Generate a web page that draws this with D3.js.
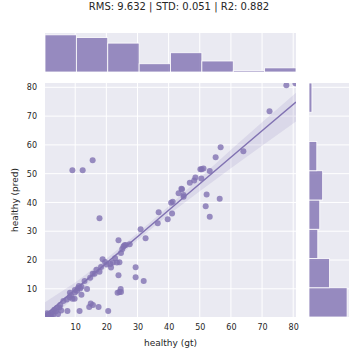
<!DOCTYPE html>
<html>
<head>
<meta charset="utf-8">
<script src="https://cdn.jsdelivr.net/npm/d3@7"></script>
<style>
  body { margin: 0; background: #fff; }
  svg { font-family: "DejaVu Sans", sans-serif; }
</style>
</head>
<body>
<div id="chart"></div>
<script>
const gtVals = [
  9.1, 0.6, 1.1, 1.5, 2.0, 2.4, 2.8, 3.3, 3.0, 4.1, 4.9, 4.5, 3.8, 6.2, 7.5, 5.5, 8.3, 8.2, 9.1, 9.8, 8.6, 9.9, 9.9, 7.3, 1.8, 0.9, 5.2,
  12.4, 15.6, 17.8, 10.9, 12.0, 11.2, 13.8, 12.0, 13.0, 11.4, 14.5, 15.0, 15.7, 17.5, 15.6, 16.2, 16.8, 17.8, 18.8, 19.6, 14.8, 10.6, 18.3, 20.1, 11.6,
  20.6, 21.3, 22.1, 21.5, 23.4, 24.2, 23.9, 24.6, 24.2, 23.6, 24.7, 29.4, 29.4, 23.9, 25.5, 24.7, 25.1, 27.5, 26.2, 22.8, 25.8,
  31.0, 32.6, 32.0, 36.8, 36.5, 39.7,
  40.8, 41.1, 41.3, 43.2, 44.3, 44.8, 44.1, 46.8, 48.6, 48.2, 50.2, 50.6, 50.5, 44.8,
  51.9, 53.2, 53.2, 52.2, 55.1, 56.7, 56.4, 51.2,
  64.0,
  72.4, 77.8, 80.7
];
const predVals = [
  51.2, 0.4, 0.9, 1.2, 1.5, 0.8, 2.0, 2.7, 1.0, 3.3, 3.5, 1.2, 2.2, 5.8, 2.3, 2.5, 8.6, 7.1, 6.5, 6.5, 7.8, 9.6, 8.7, 6.3, 0.3, 1.5, 4.4,
  51.2, 54.7, 34.5, 10.3, 10.7, 11.0, 9.9, 7.9, 12.7, 2.3, 3.7, 4.9, 4.4, 3.7, 15.2, 15.2, 16.6, 15.9, 20.3, 19.3, 13.8, 9.3, 17.6, 18.4, 10.1,
  2.3, 18.6, 19.1, 17.4, 19.1, 19.2, 14.7, 9.9, 8.9, 8.6, 8.9, 17.5, 14.0, 26.9, 24.7, 22.4, 23.8, 25.5, 25.2, 20.6, 25.1,
  30.7, 27.6, 12.7, 36.6, 32.8, 34.2,
  39.9, 36.2, 40.2, 43.2, 44.6, 42.0, 44.8, 46.8, 48.7, 47.6, 51.5, 51.5, 48.3, 42.6,
  38.7, 35.0, 50.9, 42.8, 55.7, 59.2, 41.3, 51.8,
  57.8,
  71.7, 80.7, 81.4
];

// marginal histogram counts (8 bins each)
const gtCounts = [27, 25, 21, 6, 14, 8, 1, 3];
const predCounts = [39, 21, 9, 11, 14, 8, 0, 3];

// regression fit and confidence band
const fitX = [0.3, 10, 20, 30, 40, 50, 60, 70, 80.9];
const fitY = [0.8, 9.7, 18.9, 28.1, 37.3, 46.5, 55.7, 64.9, 74.9];
const ciHi = [5.3, 12.2, 20.4, 29.3, 38.7, 48.5, 58.3, 67.9, 78.1];
const ciLo = [-2.7, 7.5, 17.5, 26.9, 35.7, 43.9, 51.9, 59.7, 68.1];

const ticks = [10, 20, 30, 40, 50, 60, 70, 80];
const title = "RMS: 9.632 | STD: 0.051 | R2: 0.882";

const width = 360, height = 360;
const main = {left: 45, right: 296, top: 83, bottom: 317};
const topM = {top: 33, bottom: 72};
const rightM = {left: 309, right: 349};
const purple = "#8172b2", bg = "#eaeaf2", ink = "#262626";

const xDomain = [0.3, 80.9], yDomain = [0.2, 81.5];

const svg = d3.select("#chart").append("svg")
    .attr("width", width)
    .attr("height", height);

svg.append("text")
    .attr("x", 179).attr("y", 10)
    .attr("text-anchor", "middle")
    .attr("font-size", "10px")
    .attr("fill", ink)
    .text(title);

const x = d3.scaleLinear().domain(xDomain).range([main.left, main.right]);
const y = d3.scaleLinear().domain(yDomain).range([main.bottom, main.top]);

// ---- main panel
svg.append("defs").append("clipPath").attr("id", "clipMain")
  .append("rect")
    .attr("x", main.left).attr("y", main.top)
    .attr("width", main.right - main.left).attr("height", main.bottom - main.top);

svg.append("rect")
    .attr("x", main.left).attr("y", main.top)
    .attr("width", main.right - main.left).attr("height", main.bottom - main.top)
    .attr("fill", bg);

const grid = svg.append("g").attr("stroke", "#fff").attr("stroke-width", 1);
grid.selectAll(".gx").data(ticks).join("line")
    .attr("class", "gx")
    .attr("x1", d => x(d)).attr("x2", d => x(d))
    .attr("y1", main.top).attr("y2", main.bottom);
grid.selectAll(".gy").data(ticks).join("line")
    .attr("class", "gy")
    .attr("y1", d => y(d)).attr("y2", d => y(d))
    .attr("x1", main.left).attr("x2", main.right);

const plot = svg.append("g").attr("clip-path", "url(#clipMain)");

const band = d3.area()
    .x((d, i) => x(fitX[i]))
    .y0((d, i) => y(ciLo[i]))
    .y1((d, i) => y(ciHi[i]));
plot.append("path")
    .datum(fitX)
    .attr("d", band)
    .attr("fill", purple)
    .attr("fill-opacity", 0.15);

plot.selectAll("circle")
    .data(gtVals)
    .join("circle")
    .attr("cx", d => x(d))
    .attr("cy", (d, i) => y(predVals[i]))
    .attr("r", 3)
    .attr("fill", purple)
    .attr("fill-opacity", 0.8);

const fitLine = d3.line()
    .x((d, i) => x(fitX[i]))
    .y((d, i) => y(fitY[i]));
plot.append("path")
    .datum(fitX)
    .attr("d", fitLine)
    .attr("fill", "none")
    .attr("stroke", purple)
    .attr("stroke-width", 1.5);

// axes, no tick marks (seaborn darkgrid)
const xAxis = svg.append("g")
    .attr("transform", `translate(0, ${main.bottom})`)
    .call(d3.axisBottom(x).tickValues(ticks).tickSize(0).tickPadding(7));
const yAxis = svg.append("g")
    .attr("transform", `translate(${main.left}, 0)`)
    .call(d3.axisLeft(y).tickValues(ticks).tickSize(0).tickPadding(8));
[xAxis, yAxis].forEach(g => {
  g.select(".domain").remove();
  g.selectAll("text").attr("fill", ink).style("font-size", "8px")
      .style("font-family", "DejaVu Sans");
});

svg.append("text")
    .attr("x", (main.left + main.right) / 2).attr("y", 346)
    .attr("text-anchor", "middle")
    .attr("font-size", "9px")
    .attr("fill", ink)
    .text("healthy (gt)");
svg.append("text")
    .attr("transform", `translate(18, ${(main.top + main.bottom) / 2}) rotate(-90)`)
    .attr("text-anchor", "middle")
    .attr("font-size", "9px")
    .attr("fill", ink)
    .text("healthy (pred)");

// ---- top marginal
const binW = (xDomain[1] - xDomain[0]) / gtCounts.length;
const cTop = d3.scaleLinear().domain([0, d3.max(gtCounts) * 1.05]).range([topM.bottom, topM.top]);

svg.append("rect")
    .attr("x", main.left).attr("y", topM.top)
    .attr("width", main.right - main.left).attr("height", topM.bottom - topM.top)
    .attr("fill", bg);
svg.append("g").attr("stroke", "#fff")
  .selectAll("line").data(ticks).join("line")
    .attr("x1", d => x(d)).attr("x2", d => x(d))
    .attr("y1", topM.top).attr("y2", topM.bottom);

svg.append("g").selectAll("rect")
    .data(gtCounts)
    .join("rect")
    .attr("x", (d, i) => x(xDomain[0] + i * binW))
    .attr("width", x(xDomain[0] + binW) - x(xDomain[0]))
    .attr("y", d => cTop(d))
    .attr("height", d => cTop(0) - cTop(d))
    .attr("fill", purple)
    .attr("fill-opacity", 0.8)
    .attr("stroke", "#fff")
    .attr("stroke-width", 0.8);

// ---- right marginal
const binH = (yDomain[1] - yDomain[0]) / predCounts.length;
const cRight = d3.scaleLinear().domain([0, d3.max(predCounts) * 1.05]).range([rightM.left, rightM.right]);

svg.append("rect")
    .attr("x", rightM.left).attr("y", main.top)
    .attr("width", rightM.right - rightM.left).attr("height", main.bottom - main.top)
    .attr("fill", bg);
svg.append("g").attr("stroke", "#fff")
  .selectAll("line").data(ticks).join("line")
    .attr("y1", d => y(d)).attr("y2", d => y(d))
    .attr("x1", rightM.left).attr("x2", rightM.right);

svg.append("g").selectAll("rect")
    .data(predCounts)
    .join("rect")
    .attr("x", cRight(0))
    .attr("y", (d, i) => y(yDomain[0] + (i + 1) * binH))
    .attr("height", y(yDomain[0]) - y(yDomain[0] + binH))
    .attr("width", d => cRight(d) - cRight(0))
    .attr("fill", purple)
    .attr("fill-opacity", 0.8)
    .attr("stroke", "#fff")
    .attr("stroke-width", 0.8);
</script>
</body>
</html>
